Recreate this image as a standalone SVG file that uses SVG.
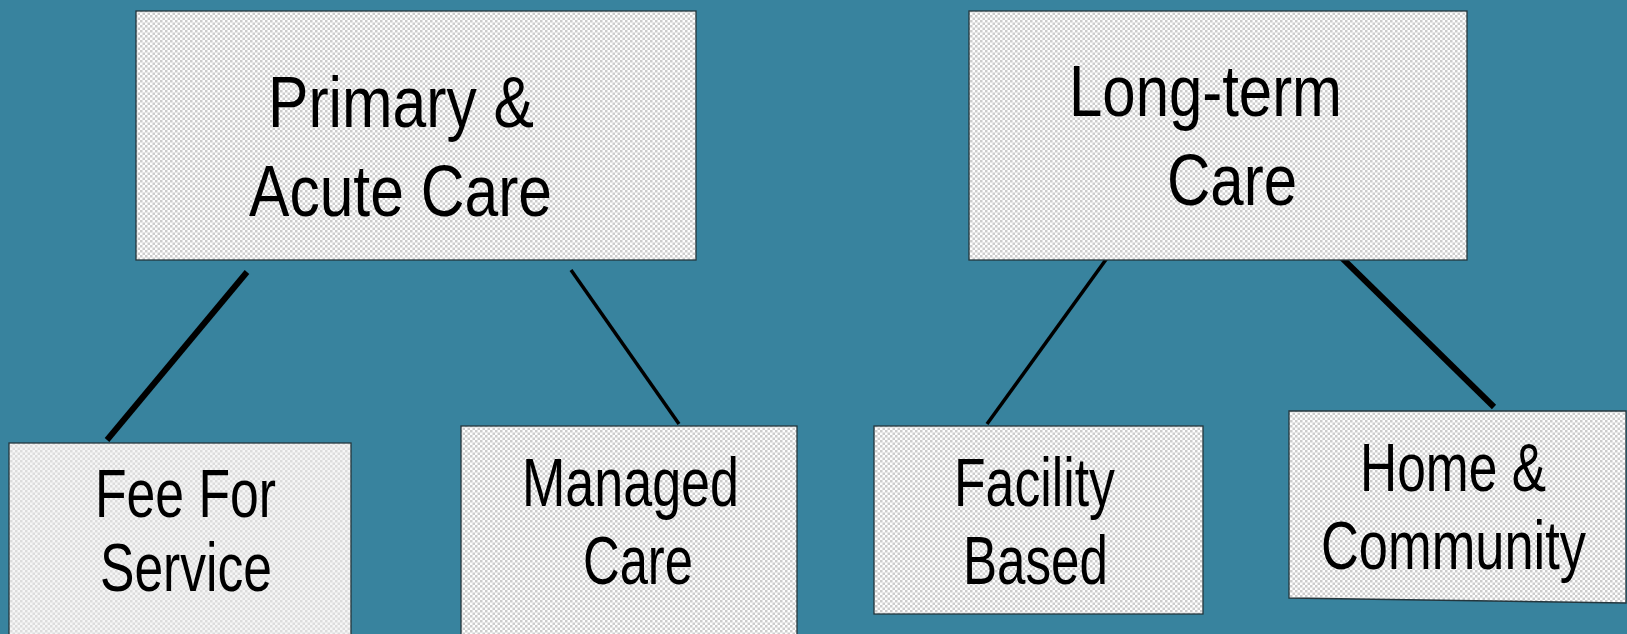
<svg xmlns="http://www.w3.org/2000/svg" width="1627" height="634" viewBox="0 0 1627 634">
<defs>
<pattern id="chk" width="5" height="5" patternUnits="userSpaceOnUse">
<rect width="5" height="5" fill="#ffffff"/>
<rect width="2.5" height="2.5" fill="#cdcdcd"/>
<rect x="2.5" y="2.5" width="2.5" height="2.5" fill="#cdcdcd"/>
</pattern>
<pattern id="chk2" width="5" height="5" patternUnits="userSpaceOnUse">
<rect width="5" height="5" fill="#f6f6f6"/>
<rect width="2.5" height="2.5" fill="#dcdcdc"/>
<rect x="2.5" y="2.5" width="2.5" height="2.5" fill="#dcdcdc"/>
</pattern>
<style>
.box{fill:url(#chk);stroke:#24363d;stroke-width:1.3}
.box2{fill:url(#chk2);stroke:#24363d;stroke-width:1.3}
.t{font-family:"Liberation Sans",Arial,sans-serif;fill:#000}
.big{font-size:72px}
.sm{font-size:68px}
.ln{stroke:#000;fill:none;stroke-linecap:butt}
</style>
</defs>
<rect width="1627" height="634" fill="#38839e"/>
<g id="connectors">
<line class="ln" x1="247" y1="272" x2="107" y2="440" stroke-width="6"/>
<line class="ln" x1="571" y1="270" x2="679" y2="424" stroke-width="3.5"/>
<line class="ln" x1="1110" y1="254" x2="987" y2="424" stroke-width="3.5"/>
<line class="ln" x1="1338" y1="254" x2="1494" y2="407" stroke-width="6"/>
</g>
<g id="primary">
<rect class="box" x="136" y="11" width="560" height="249"/>
<text class="t big" x="268" y="127" textLength="266" lengthAdjust="spacingAndGlyphs">Primary &amp;</text>
<text class="t big" x="249" y="216" textLength="303" lengthAdjust="spacingAndGlyphs">Acute Care</text>
</g>
<g id="longterm">
<rect class="box" x="969" y="11" width="498" height="249"/>
<text class="t big" x="1069" y="116" textLength="273" lengthAdjust="spacingAndGlyphs">Long-term</text>
<text class="t big" x="1167" y="205" textLength="130" lengthAdjust="spacingAndGlyphs">Care</text>
</g>
<g id="fee">
<rect class="box2" x="9" y="443" width="342" height="200"/>
<text class="t sm" x="95" y="517" textLength="181" lengthAdjust="spacingAndGlyphs">Fee For</text>
<text class="t sm" x="100" y="591" textLength="172" lengthAdjust="spacingAndGlyphs">Service</text>
</g>
<g id="managed">
<rect class="box" x="461" y="426" width="336" height="220"/>
<text class="t sm" x="522" y="506" textLength="217" lengthAdjust="spacingAndGlyphs">Managed</text>
<text class="t sm" x="583" y="584" textLength="110" lengthAdjust="spacingAndGlyphs">Care</text>
</g>
<g id="facility">
<rect class="box" x="874" y="426" width="329" height="188"/>
<text class="t sm" x="954" y="506" textLength="161" lengthAdjust="spacingAndGlyphs">Facility</text>
<text class="t sm" x="963" y="584" textLength="145" lengthAdjust="spacingAndGlyphs">Based</text>
</g>
<g id="home">
<polygon class="box" points="1289,411 1626,411 1626,603 1289,598"/>
<text class="t sm" x="1360" y="491" textLength="186" lengthAdjust="spacingAndGlyphs">Home &amp;</text>
<text class="t sm" x="1321" y="569" textLength="265" lengthAdjust="spacingAndGlyphs">Community</text>
</g>
</svg>
